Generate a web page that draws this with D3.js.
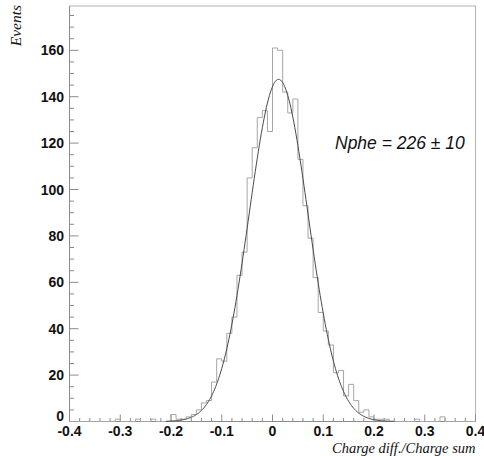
<!DOCTYPE html>
<html>
<head>
<meta charset="utf-8">
<script src="https://cdn.jsdelivr.net/npm/d3@7"></script>
<style>
html,body{margin:0;padding:0;background:#fff;}
svg{display:block;}
</style>
</head>
<body>
<script>
// ---- data ----
const binLowEdges = d3.range(80).map(i => +(-0.4 + i * 0.01).toFixed(2));
const binWidth = 0.01;
const counts = [
  0,0,0,0,0,0,0,0,0,1,      // -0.40 .. -0.31
  0,0,0,1,0,0,1,0,0,0,      // -0.30 .. -0.21
  3,1,1,2,3,5,8,9,17,27,    // -0.20 .. -0.11
  26,38,45,63,73,105,118,131,134,125, // -0.10 .. -0.01
  161,160,142,133,139,113,93,79,62,47, // 0.00 .. 0.09
  39,33,21,22,11,16,9,4,5,2, // 0.10 .. 0.19
  1,1,1,0,0,0,0,0,1,0,      // 0.20 .. 0.29
  0,0,0,2,0,0,0,0,0,0       // 0.30 .. 0.39
];
const fitAmp = 147.5, fitMean = 0.012, fitSigma = 0.058;
const fitRange = [-0.21, 0.24];
const xTickValues = [-0.4,-0.3,-0.2,-0.1,0,0.1,0.2,0.3,0.4];
const xTickLabels = ["-0.4","-0.3","-0.2","-0.1","0","0.1","0.2","0.3","0.4"];
const yTickValues = [0,20,40,60,80,100,120,140,160];
const yTickLabels = ["0","20","40","60","80","100","120","140","160"];
const xTitle = "Charge diff./Charge sum";
const yTitle = "Events";
const annotation = "Nphe = 226 \u00B1 10";

// ---- layout ----
const W = 484, H = 456;
const L = 69.5, R = 475.5, T = 6, B = 421.5;
const svg = d3.select("body").append("svg").attr("width", W).attr("height", H);

const x = d3.scaleLinear().domain([-0.4, 0.4]).range([L, R]);
const y = d3.scaleLinear().domain([0, 179.1]).range([B, T]);

const axisCol = "#8c8c8c";

// frame
svg.append("rect").attr("x", L).attr("y", T).attr("width", R - L).attr("height", B - T)
  .attr("fill", "none").attr("stroke", "#b4b4b4").attr("stroke-width", 1);

// x axis ticks
const xMinor = d3.range(-0.4, 0.4001, 0.02).map(v => +v.toFixed(2));
svg.append("g").selectAll("line").data(xMinor).join("line")
  .attr("x1", d => x(d)).attr("x2", d => x(d))
  .attr("y1", B).attr("y2", d => (Math.abs(Math.round(d * 10) - d * 10) < 1e-6) ? B - 7 : B - 3.5)
  .attr("stroke", axisCol).attr("stroke-width", 1);
// y axis ticks
const yMinor = d3.range(0, 176, 5);
svg.append("g").selectAll("line").data(yMinor).join("line")
  .attr("x1", L).attr("x2", d => d % 20 === 0 ? L + 9 : L + 4.5)
  .attr("y1", d => y(d)).attr("y2", d => y(d))
  .attr("stroke", axisCol).attr("stroke-width", 1);
// axis lines
svg.append("line").attr("x1", L).attr("x2", R).attr("y1", B).attr("y2", B).attr("stroke", axisCol);
svg.append("line").attr("x1", L).attr("x2", L).attr("y1", T).attr("y2", B).attr("stroke", axisCol);

// tick labels
const lblFont = "'Liberation Sans', Arial, Helvetica, sans-serif";
svg.append("g").selectAll("text").data(xTickValues).join("text")
  .attr("x", d => x(d)).attr("y", 436)
  .attr("text-anchor", "middle")
  .attr("font-family", lblFont).attr("font-weight", "bold").attr("font-size", 14)
  .attr("fill", "#111")
  .text((d, i) => xTickLabels[i]);
svg.append("g").selectAll("text").data(yTickValues).join("text")
  .attr("x", 64).attr("y", d => d === 0 ? y(d) - 1 : y(d) + 5)
  .attr("text-anchor", "end")
  .attr("font-family", lblFont).attr("font-weight", "bold").attr("font-size", 14)
  .attr("fill", "#111")
  .text((d, i) => yTickLabels[i]);

// histogram step outline
const stepPts = [[x(-0.4), y(0)]];
binLowEdges.forEach((e, i) => {
  stepPts.push([x(e), y(counts[i])]);
  stepPts.push([x(e + binWidth), y(counts[i])]);
});
stepPts.push([x(0.4), y(0)]);
svg.append("path").attr("d", d3.line()(stepPts))
  .attr("fill", "none").attr("stroke", "#a6a6a6").attr("stroke-width", 1);

// gaussian fit
const gaus = v => fitAmp * Math.exp(-0.5 * Math.pow((v - fitMean) / fitSigma, 2));
const fitXs = d3.range(fitRange[0], fitRange[1] + 1e-9, 0.002);
svg.append("path")
  .attr("d", d3.line().x(v => x(v)).y(v => y(gaus(v)))(fitXs))
  .attr("fill", "none").attr("stroke", "#4a4a4a").attr("stroke-width", 1);

// titles
const serif = "'Liberation Serif', 'Times New Roman', Times, serif";
svg.append("text").attr("x", R).attr("y", 453)
  .attr("text-anchor", "end").attr("font-family", serif).attr("font-style", "italic")
  .attr("font-size", 14.5).attr("fill", "#111").text(xTitle);
svg.append("text").attr("transform", "translate(21,5) rotate(-90)")
  .attr("text-anchor", "end").attr("font-family", serif).attr("font-style", "italic")
  .attr("font-size", 15.5).attr("fill", "#111").text(yTitle);

// annotation
svg.append("text").attr("x", 335).attr("y", 148.5)
  .attr("font-family", lblFont).attr("font-style", "italic")
  .attr("font-size", 17.5).attr("fill", "#111").text(annotation);
</script>
</body>
</html>
